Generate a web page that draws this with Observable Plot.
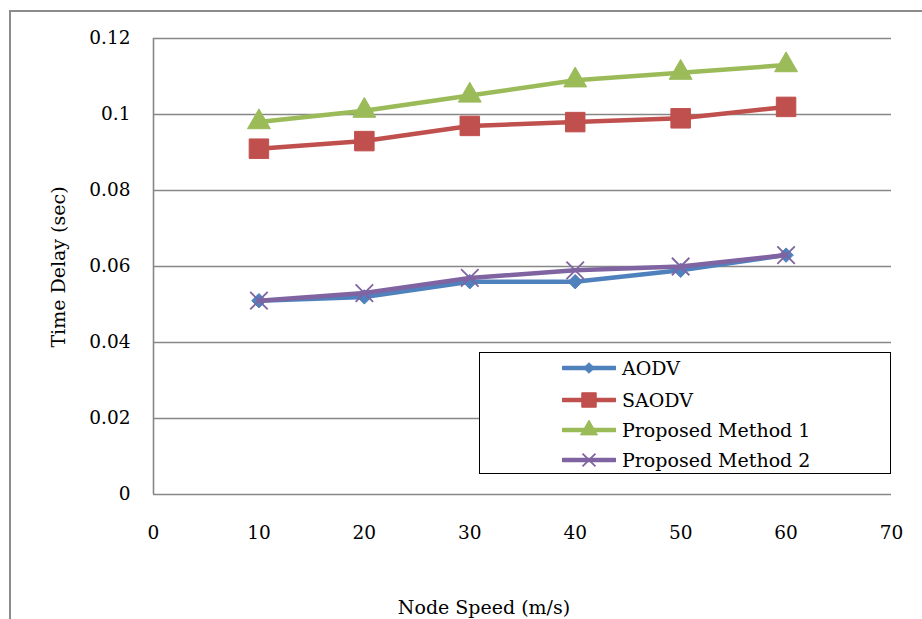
<!DOCTYPE html>
<html>
<head>
<meta charset="utf-8">
<script src="https://cdn.jsdelivr.net/npm/d3@7"></script>
<script src="https://cdn.jsdelivr.net/npm/@observablehq/plot@0.6"></script>
<style>
  html, body { margin: 0; padding: 0; background: #fff; }
  body { width: 922px; height: 619px; position: relative; overflow: hidden; font-family: "DejaVu Serif", serif; }
  #frame { position: absolute; left: 9px; top: 10px; width: 1200px; height: 1200px; border: 2px solid #8c8c8c; box-sizing: border-box; }
  #chart { position: absolute; left: 0; top: 0; }
  .axtitle { position: absolute; font-size: 19px; color: #000; white-space: nowrap; }
  #legend { position: absolute; left: 479px; top: 352px; width: 412px; height: 122px; border: 1.5px solid #000; box-sizing: border-box; background: #fff; }
  .lrow { position: absolute; left: 82px; height: 30px; display: flex; align-items: center; font-size: 19px; white-space: nowrap; }
  .lrow svg { margin-right: 6px; }
</style>
</head>
<body>
<div id="frame"></div>
<div id="chart"></div>
<div class="axtitle" id="ytitle">Time Delay (sec)</div>
<div class="axtitle" id="xtitle">Node Speed (m/s)</div>
<div id="legend"></div>
<script>
// ---- data ----
const speeds = [10, 20, 30, 40, 50, 60];
const aodv = [0.051, 0.052, 0.056, 0.056, 0.059, 0.063];
const saodv = [0.091, 0.093, 0.097, 0.098, 0.099, 0.102];
const proposed1 = [0.098, 0.101, 0.105, 0.109, 0.111, 0.113];
const proposed2 = [0.051, 0.053, 0.057, 0.059, 0.060, 0.063];
const seriesNames = ["AODV", "SAODV", "Proposed Method 1", "Proposed Method 2"];
const xTicks = [0, 10, 20, 30, 40, 50, 60, 70];
const yTicks = [0, 0.02, 0.04, 0.06, 0.08, 0.1, 0.12];

// ---- styles ----
const colors = ["#4f81bd", "#c0504d", "#9bbb59", "#8064a2"];
const symbols = ["diamond2", "square", "triangle", "times"];
const radii = [6.5, 11, 8.5, 8];
const valuesList = [aodv, saodv, proposed1, proposed2];

const series = seriesNames.map((name, i) => ({
  name, color: colors[i], symbol: symbols[i], r: radii[i],
  data: speeds.map((s, j) => ({speed: s, value: valuesList[i][j]}))
}));

const marks = [
  Plot.ruleY(yTicks.filter(d => d > 0), {stroke: "#878787", strokeWidth: 1.6}),
  Plot.ruleY([0], {stroke: "#878787", strokeWidth: 1.6}),
  Plot.ruleX([0], {stroke: "#878787", strokeWidth: 1.6})
];
for (const s of series) {
  marks.push(Plot.line(s.data, {x: "speed", y: "value", stroke: s.color, strokeWidth: 4.5, strokeLinejoin: "round"}));
  if (s.symbol === "times") {
    marks.push(Plot.dot(s.data, {x: "speed", y: "value", symbol: "times", r: s.r, stroke: s.color, strokeWidth: 1.8}));
  } else {
    marks.push(Plot.dot(s.data, {x: "speed", y: "value", symbol: s.symbol, r: s.r, fill: s.color, stroke: s.color, strokeWidth: 1}));
  }
}

const chart = Plot.plot({
  width: 922,
  height: 619,
  marginLeft: 153,
  marginRight: 31,
  marginTop: 38,
  marginBottom: 125,
  style: {fontFamily: "DejaVu Serif, serif", fontSize: "18.5px", color: "#000", background: "transparent"},
  x: {domain: [0, 70], ticks: xTicks, tickSize: 0, tickPadding: 31, tickFormat: d => String(d), label: null},
  y: {domain: [0, 0.12], ticks: yTicks, tickSize: 0, tickPadding: 23, tickFormat: d => String(d), label: null},
  marks
});
document.getElementById("chart").appendChild(chart);

// axis titles
const yt = document.getElementById("ytitle");
yt.style.left = "58px"; yt.style.top = "267px";
yt.style.transform = "translate(-50%, -50%) rotate(-90deg)";
const xt = document.getElementById("xtitle");
xt.style.left = "484px"; xt.style.top = "607px";
xt.style.transform = "translate(-50%, -50%)";

// legend
const legend = document.getElementById("legend");
const rowCenters = [15, 47, 77, 107];
series.forEach((s, i) => {
  const row = document.createElement("div");
  row.className = "lrow";
  row.style.top = (rowCenters[i] - 15) + "px";
  const svg = d3.create("svg").attr("width", 54).attr("height", 30);
  svg.append("line").attr("x1", 1).attr("x2", 53).attr("y1", 15).attr("y2", 15)
    .attr("stroke", s.color).attr("stroke-width", 4.5).attr("stroke-linecap", "round");
  const symMap = {diamond2: d3.symbolDiamond2, square: d3.symbolSquare, triangle: d3.symbolTriangle, times: d3.symbolTimes};
  const size = Math.PI * s.r * s.r * 0.55;
  const path = d3.symbol(symMap[s.symbol], size)();
  const p = svg.append("path").attr("d", path).attr("transform", "translate(27,15)");
  if (s.symbol === "times") p.attr("fill", "none").attr("stroke", s.color).attr("stroke-width", 1.8);
  else p.attr("fill", s.color).attr("stroke", s.color);
  row.appendChild(svg.node());
  const t = document.createElement("span");
  t.textContent = s.name;
  row.appendChild(t);
  legend.appendChild(row);
});
</script>
</body>
</html>
